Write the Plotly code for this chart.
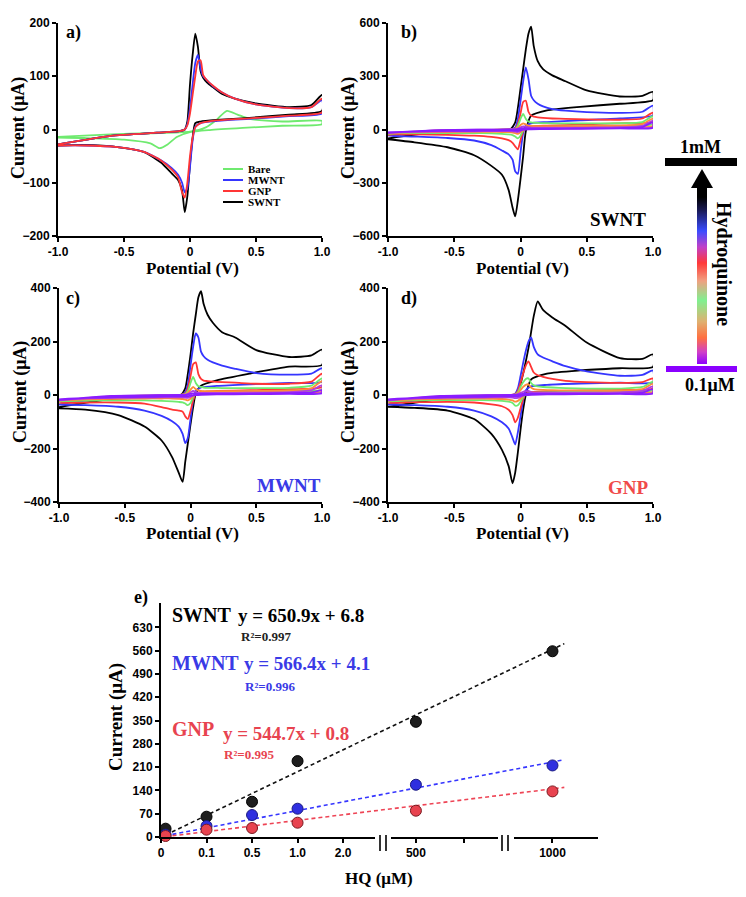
import plotly.graph_objects as go

# ---------------- data ----------------
# potential grid (V): forward scan and reverse scan
E_FWD = [-1.0, -0.6, -0.25, -0.08, -0.04, -0.02, 0.0, 0.02, 0.04, 0.06, 0.08, 0.1, 0.13, 0.17, 0.24, 0.34, 0.5, 0.75, 0.92, 1.0]
E_REV = [1.0, 0.75, 0.45, 0.2, 0.08, 0.04, 0.02, 0.0, -0.02, -0.04, -0.06, -0.09, -0.14, -0.22, -0.35, -0.55, -0.8, -1.0]

# a) electrodes at 1 mM HQ
a_names = ["SWNT", "MWNT", "GNP"]
a_fwd = [
    [-28, -12, -6, -3, 0, 15, 85, 140, 180, 155, 110, 97, 88, 80, 67, 58, 49, 42, 46, 65],
    [-28, -12, -6, -3, 0, 10, 40, 85, 125, 140, 115, 100, 92, 82, 70, 58, 47, 40, 42, 55],
    [-28, -12, -6, -3, 0, 8, 30, 65, 100, 128, 130, 102, 92, 83, 70, 58, 47, 40, 42, 58],
]
a_rev = [
    [35, 28, 22, 18, 15, 12, -15, -65, -125, -155, -115, -95, -82, -62, -42, -33, -29, -30],
    [30, 25, 20, 16, 12, 5, -20, -70, -110, -118, -100, -85, -72, -58, -42, -33, -30, -30],
    [32, 26, 21, 17, 12, 4, -15, -50, -100, -128, -118, -90, -75, -58, -42, -33, -30, -30],
]
bare_e_fwd = [-1.0, -0.6, -0.3, 0.0, 0.12, 0.2, 0.28, 0.36, 0.45, 0.7, 1.0]
bare_i_fwd = [-14, -9, -7, -4, 4, 18, 35, 28, 20, 15, 16]
bare_e_rev = [1.0, 0.7, 0.4, 0.15, 0.0, -0.1, -0.17, -0.23, -0.3, -0.5, -0.8, -1.0]
bare_i_rev = [10, 7, 3, -1, -5, -14, -28, -35, -26, -19, -16, -15]

# b) SWNT, c) MWNT, d) GNP at rising HQ levels (0.1 uM ... 1 mM)
b_fwd = [
    [-18, -3, -1, 0, 0, 2, 5, 8, 7, 6, 5, 5, 5, 5, 5, 5, 6, 8, 14, 40],
    [-20, -4, -1, 0, 1, 5, 12, 18, 15, 12, 11, 10, 10, 10, 10, 10, 11, 13, 20, 50],
    [-22, -5, -2, 0, 2, 10, 25, 35, 28, 22, 20, 19, 19, 19, 19, 19, 20, 22, 30, 62],
    [-25, -6, -2, 0, 3, 20, 60, 88, 60, 45, 40, 38, 37, 36, 35, 35, 35, 36, 42, 75],
    [-30, -8, -3, 0, 5, 30, 90, 155, 162, 100, 78, 72, 68, 65, 62, 60, 57, 55, 62, 95],
    [-35, -10, -4, 0, 10, 60, 160, 270, 350, 285, 190, 165, 145, 130, 115, 106, 98, 94, 100, 135],
    [-50, -12, -5, 0, 40, 120, 230, 340, 450, 540, 580, 470, 385, 340, 305, 272, 220, 186, 190, 212],
]
b_rev = [
    [10, 6, 4, 2, 1, 0, -1, -4, -7, -6, -5, -5, -5, -6, -7, -8, -11, -16],
    [14, 9, 6, 4, 3, 2, -1, -8, -14, -12, -10, -9, -9, -9, -10, -11, -13, -18],
    [20, 14, 10, 7, 5, 3, -3, -15, -25, -20, -17, -15, -14, -13, -13, -14, -16, -20],
    [30, 22, 18, 14, 10, 6, -5, -35, -50, -40, -32, -28, -25, -22, -20, -20, -20, -22],
    [45, 35, 28, 22, 18, 10, -10, -60, -112, -95, -75, -60, -50, -42, -35, -30, -28, -28],
    [80, 62, 52, 42, 35, 20, -20, -130, -250, -235, -170, -140, -118, -88, -62, -48, -40, -35],
    [165, 145, 128, 108, 78, -10, -150, -280, -400, -490, -440, -340, -255, -205, -145, -100, -72, -55],
]
c_fwd = [
    [-18, -3, -1, 0, 0, 2, 4, 6, 5, 4, 4, 4, 4, 4, 4, 4, 5, 7, 10, 18],
    [-20, -4, -1, 0, 1, 4, 10, 15, 12, 9, 8, 8, 8, 8, 8, 8, 9, 11, 18, 36],
    [-22, -5, -2, 0, 2, 8, 20, 30, 22, 17, 15, 14, 14, 14, 14, 14, 15, 17, 25, 52],
    [-25, -6, -2, 0, 3, 15, 45, 68, 45, 33, 30, 28, 27, 27, 26, 26, 26, 27, 35, 62],
    [-30, -8, -3, 0, 5, 25, 70, 115, 122, 78, 60, 54, 52, 50, 48, 46, 42, 42, 50, 80],
    [-35, -10, -5, -1, 10, 40, 110, 180, 230, 215, 162, 145, 132, 122, 110, 98, 82, 76, 80, 100],
    [-45, -15, -8, -2, 25, 80, 150, 230, 300, 365, 388, 340, 300, 270, 235, 215, 168, 142, 148, 170],
]
c_rev = [
    [6, 4, 3, 2, 1, 0, -1, -3, -5, -5, -5, -5, -5, -6, -7, -8, -11, -16],
    [10, 7, 5, 4, 3, 1, -2, -7, -11, -10, -9, -9, -9, -9, -10, -11, -13, -18],
    [14, 10, 8, 6, 5, 2, -4, -14, -20, -17, -15, -14, -13, -13, -13, -14, -16, -20],
    [20, 16, 13, 10, 8, 4, -8, -30, -38, -32, -28, -26, -24, -22, -20, -20, -21, -24],
    [30, 22, 18, 15, 12, 5, -20, -60, -90, -80, -62, -58, -55, -45, -32, -28, -28, -30],
    [50, 45, 40, 34, 28, 15, -20, -90, -160, -180, -145, -118, -98, -78, -58, -44, -38, -36],
    [112, 106, 80, 55, 35, 5, -45, -110, -180, -250, -325, -290, -232, -170, -118, -75, -55, -50],
]
d_fwd = [
    [-18, -3, -1, 0, 0, 1, 3, 5, 6, 6, 5, 4, 4, 4, 4, 4, 4, 5, 9, 22],
    [-20, -4, -1, 0, 1, 3, 8, 12, 14, 15, 11, 9, 9, 9, 9, 9, 9, 10, 15, 32],
    [-22, -5, -2, 0, 1, 6, 18, 30, 38, 40, 28, 22, 20, 19, 18, 17, 16, 17, 22, 42],
    [-25, -6, -2, 0, 2, 10, 30, 48, 60, 62, 45, 36, 32, 30, 28, 26, 24, 24, 30, 50],
    [-30, -8, -3, 0, 3, 15, 45, 80, 110, 126, 105, 84, 74, 68, 60, 53, 48, 45, 48, 62],
    [-35, -10, -5, -1, 5, 25, 70, 120, 165, 200, 215, 180, 152, 140, 126, 108, 88, 72, 75, 92],
    [-45, -15, -8, -3, 0, 10, 40, 80, 125, 175, 235, 295, 350, 318, 290, 258, 196, 138, 135, 152],
]
d_rev = [
    [5, 4, 3, 2, 1, 0, -1, -3, -5, -6, -5, -5, -5, -6, -7, -8, -11, -16],
    [8, 6, 5, 4, 3, 1, -2, -7, -11, -12, -10, -9, -9, -9, -10, -11, -13, -18],
    [12, 10, 8, 6, 5, 2, -4, -14, -22, -25, -20, -17, -15, -14, -13, -14, -16, -20],
    [18, 14, 12, 10, 8, 3, -8, -25, -38, -40, -30, -25, -22, -20, -19, -19, -20, -24],
    [25, 20, 17, 14, 11, 5, -15, -50, -85, -102, -75, -55, -42, -35, -28, -26, -27, -30],
    [48, 46, 43, 38, 32, 18, -20, -80, -140, -185, -160, -125, -102, -80, -58, -44, -38, -36],
    [105, 100, 92, 80, 58, 0, -55, -130, -215, -290, -330, -265, -205, -145, -90, -58, -48, -44],
]

# e) calibration
hq_ticks = ["0", "0.1", "0.5", "1.0", "2.0", "500", "", "1000"]
hq_tickpos = [0, 1, 2, 3, 4, 5.6, 6.65, 8.6]
hq_pos = [0.1, 1, 2, 3, 5.6, 8.6]
swnt_i = [25, 61, 106, 228, 346, 558]
mwnt_i = [7, 33, 66, 85, 157, 215]
gnp_i = [3, 22, 27, 43, 79, 137]
fit_x = [0.1, 8.86]
swnt_fit = [6, 581]
mwnt_fit = [4, 232]
gnp_fit = [1, 149]
current_ticks = [0, 70, 140, 210, 280, 350, 420, 490, 560, 630]

# ---------------- styling helpers ----------------
W, H = 746, 897
def px(x):
    return x / W
def py(y):
    return 1 - y / H

CV_COLORS = ["#8a1cff", "#b23ee0", "#ff8c3a", "#6fea6f", "#ff3535", "#3535ff", "#000000"]
A_COLORS = ["#000000", "#3535ff", "#ff3535"]
BLUE_TXT = "#3a3ae6"
RED_TXT = "#e8434f"
SERIF = "Liberation Serif, Times New Roman, serif"
SANS = "Liberation Sans, Arial, sans-serif"

AX = dict(showline=True, linecolor="black", linewidth=2, ticks="outside", ticklen=4,
          tickwidth=1.5, tickcolor="black", showgrid=False, zeroline=False, automargin=False,
          tickfont=dict(family=SANS, size=12, color="black", weight="bold"))

fig = go.Figure()

def cv_trace(n, e_f, i_f, e_r, i_r, color, name=None):
    sfx = "" if n == 1 else str(n)
    fig.add_trace(go.Scatter(
        x=e_f + e_r, y=i_f + i_r, mode="lines", name=name, showlegend=False,
        line=dict(color=color, width=1.8, shape="spline", smoothing=0.6),
        xaxis="x" + sfx, yaxis="y" + sfx, hoverinfo="skip"))

# panel a
cv_trace(1, bare_e_fwd, bare_i_fwd, bare_e_rev, bare_i_rev, "#6fea6f", "Bare")
for k in range(3):
    cv_trace(1, E_FWD, a_fwd[k], E_REV, a_rev[k], A_COLORS[k], a_names[k])

# panels b, c, d: highest concentration drawn first
for n, fw, rv in [(2, b_fwd, b_rev), (3, c_fwd, c_rev), (4, d_fwd, d_rev)]:
    for k in range(len(fw) - 1, -1, -1):
        cv_trace(n, E_FWD, fw[k], E_REV, rv[k], CV_COLORS[k])

# panel e
for yfit, col in [(swnt_fit, "#111111"), (mwnt_fit, "#3535ff"), (gnp_fit, "#ee4455")]:
    fig.add_trace(go.Scatter(x=fit_x, y=yfit, mode="lines", showlegend=False,
                             line=dict(color=col, width=1.6, dash="4px,3px"),
                             xaxis="x5", yaxis="y5", hoverinfo="skip"))
for yv, fill, edge in [(swnt_i, "#1e1e1e", "#000000"), (mwnt_i, "#2f2fe0", "#1a1a80"),
                       (gnp_i, "#e8434f", "#7a1a20")]:
    fig.add_trace(go.Scatter(x=hq_pos, y=yv, mode="markers", showlegend=False,
                             marker=dict(size=11, color=fill, line=dict(color=edge, width=1)),
                             xaxis="x5", yaxis="y5", cliponaxis=False))

# gradient arrow shaft (heatmap)
fig.add_trace(go.Heatmap(
    z=[[0, 0], [1, 1]], x=[0, 1], y=[0, 1], zsmooth="best", showscale=False,
    colorscale=[[0.0, "#8a00ff"], [0.07, "#d040c8"], [0.15, "#ff7040"], [0.24, "#e0b070"],
                [0.36, "#80f090"], [0.47, "#f0a080"], [0.57, "#ff3838"], [0.66, "#c040c8"],
                [0.75, "#3a4cff"], [0.87, "#181850"], [0.94, "#000000"], [1.0, "#000000"]],
    xaxis="x6", yaxis="y6", hoverinfo="skip"))

# ---------------- axes ----------------
cv_xt = dict(tickvals=[-1, -0.5, 0, 0.5, 1], ticktext=["-1.0", "-0.5", "0", "0.5", "1.0"])
boxes = {
    1: ((58, 322), (23, 236), 200),
    2: ((388, 653), (23, 236), 600),
    3: ((59, 322), (288, 502), 400),
    4: ((388, 653), (288, 502), 400),
}
lay = {}
for n, ((x0, x1), (y0, y1), ymax) in boxes.items():
    sfx = "" if n == 1 else str(n)
    lay["xaxis" + sfx] = dict(AX, domain=[px(x0), px(x1)], anchor="y" + sfx, range=[-1, 1], **cv_xt)
    lay["yaxis" + sfx] = dict(AX, domain=[py(y1), py(y0)], anchor="x" + sfx, range=[-ymax, ymax],
                              tickvals=[-ymax, -ymax / 2, 0, ymax / 2, ymax])
lay["xaxis5"] = dict(AX, domain=[px(161), px(598)], anchor="y5", range=[0, 9.6],
                     tickvals=hq_tickpos, ticktext=hq_ticks)
lay["yaxis5"] = dict(AX, domain=[py(837), py(603)], anchor="x5", range=[0, 703], tickvals=current_ticks)
lay["xaxis6"] = dict(domain=[px(697), px(707)], anchor="y6", range=[0, 1], visible=False, automargin=False)
lay["yaxis6"] = dict(domain=[py(364), py(186)], anchor="x6", range=[0, 1], visible=False, automargin=False)

# ---------------- text ----------------
ann = []
def text(x, y, s, size, color="black", angle=0, xanchor="center"):
    ann.append(dict(x=px(x), y=py(y), xref="paper", yref="paper", text=s, showarrow=False,
                    textangle=angle, xanchor=xanchor, yanchor="middle",
                    font=dict(family=SERIF, size=size, color=color, weight="bold")))

for cx, cy in [(192, 268), (522, 268), (192, 533), (522, 533)]:
    text(cx, cy, "Potential (V)", 17)
for cx, cy in [(18, 128), (348, 128), (20, 392), (348, 392)]:
    text(cx, cy, "Current (μA)", 18, angle=-90)
text(379, 878, "HQ (μM)", 17)
text(116, 717, "Current (μA)", 19, angle=-90)

for s, cx, cy in [("a)", 73, 33), ("b)", 409, 33), ("c)", 73, 298), ("d)", 409, 298), ("e)", 141, 597)]:
    text(cx, cy, s, 18)

text(648, 219, "SWNT", 19, xanchor="right")
text(323, 485, "MWNT", 19, BLUE_TXT, xanchor="right")
text(651, 487, "GNP", 19, "#f04a4a", xanchor="right")

text(170, 615, "SWNT", 20, xanchor="left")
text(236, 615, "y = 650.9x + 6.8", 19, xanchor="left")
text(239, 636, "R²=0.997", 13, "#222222", xanchor="left")
text(170, 663, "MWNT", 20, BLUE_TXT, xanchor="left")
text(242, 663, "y = 566.4x + 4.1", 19, BLUE_TXT, xanchor="left")
text(243, 686, "R²=0.996", 13, BLUE_TXT, xanchor="left")
text(170, 729, "GNP", 20, RED_TXT, xanchor="left")
text(221, 733, "y = 544.7x + 0.8", 19, RED_TXT, xanchor="left")
text(222, 754, "R²=0.995", 13, RED_TXT, xanchor="left")

text(700, 147, "1mM", 18)
text(710, 385, "0.1μM", 18)
text(724, 264, "Hydroquinone", 20, angle=90)

# legend of panel a drawn by hand
shapes = []
for (s, col), ly in zip([("Bare", "#6fea6f"), ("MWNT", "#3535ff"), ("GNP", "#ff3535"), ("SWNT", "#000000")],
                        [169, 180, 191, 202]):
    shapes.append(dict(type="line", xref="paper", yref="paper", x0=px(223), x1=px(243),
                       y0=py(ly), y1=py(ly), line=dict(color=col, width=2)))
    text(246, ly, s, 11, xanchor="left")

# arrow decorations
shapes.append(dict(type="rect", xref="paper", yref="paper", x0=px(665), x1=px(737), y0=py(166), y1=py(158),
                   fillcolor="black", line=dict(width=0)))
shapes.append(dict(type="rect", xref="paper", yref="paper", x0=px(666), x1=px(737), y0=py(372), y1=py(366),
                   fillcolor="#8a00ff", line=dict(width=0)))
shapes.append(dict(type="path", xref="paper", yref="paper",
                   path=f"M {px(702)} {py(169)} L {px(691)} {py(188)} L {px(713)} {py(188)} Z",
                   fillcolor="black", line=dict(width=0)))

# broken x axis in panel e
for gx in [(375, 391), (498, 514)]:
    shapes.append(dict(type="rect", xref="paper", yref="paper", x0=px(gx[0]), x1=px(gx[1]),
                       y0=py(839.5), y1=py(834.5), fillcolor="white", line=dict(width=0), layer="above"))
for bx in [380, 386, 502, 508]:
    shapes.append(dict(type="line", xref="paper", yref="paper", x0=px(bx), x1=px(bx),
                       y0=py(835), y1=py(851), line=dict(color="black", width=1.6)))

fig.update_layout(
    width=W, height=H, margin=dict(l=0, r=0, t=0, b=0, pad=0, autoexpand=False),
    paper_bgcolor="white", plot_bgcolor="white", showlegend=False,
    annotations=ann, shapes=shapes, **lay)

fig.write_html(
    "out.html",
    config={"displayModeBar": False},
    post_script="document.body.style.margin='0px';"
                "document.body.style.overflow='hidden';"
                "document.documentElement.style.overflow='hidden';",
)
